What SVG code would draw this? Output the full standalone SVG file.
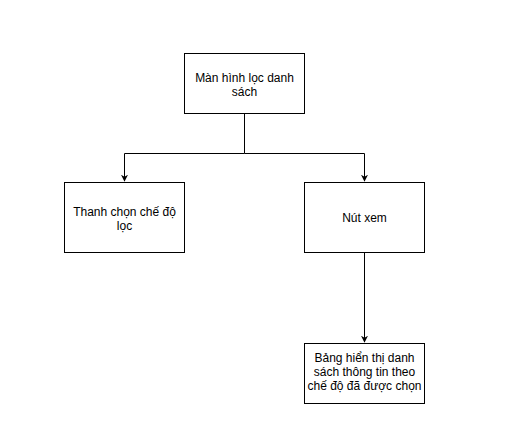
<svg xmlns="http://www.w3.org/2000/svg" width="521" height="431" viewBox="0 0 521 431">
<style>
.box{fill:#fff;stroke:#000;stroke-width:1}
.t{font-family:"Liberation Sans",Arial,sans-serif;font-size:12px;fill:#000;text-anchor:middle}
.edge{fill:none;stroke:#000;stroke-width:1}
</style>
<defs>
<marker id="arr" viewBox="0 0 10 10" refX="9" refY="5" markerWidth="7" markerHeight="7" markerUnits="userSpaceOnUse" orient="auto">
<path d="M0,0 L10,5 L0,10 L3,5 Z" fill="#000"/>
</marker>
</defs>
<rect width="521" height="431" fill="#fff"/>
<g id="connectors">
<path class="edge" d="M244.5,113 V153.5 H124.5 V181" marker-end="url(#arr)"/>
<path class="edge" d="M244.5,153.5 H364.5 V181" marker-end="url(#arr)"/>
<path class="edge" d="M364.5,253 V342" marker-end="url(#arr)"/>
</g>
<g id="n1">
<rect class="box" x="184.5" y="53.5" width="120" height="60"/>
<text class="t" x="244.5" y="82">Màn hình lọc danh</text>
<text class="t" x="244.5" y="96">sách</text>
</g>
<g id="n2">
<rect class="box" x="64.5" y="182.5" width="120" height="70"/>
<text class="t" x="124.5" y="216">Thanh chọn chế độ</text>
<text class="t" x="124.5" y="230">lọc</text>
</g>
<g id="n3">
<rect class="box" x="304.5" y="182.5" width="120" height="70"/>
<text class="t" x="364.5" y="222">Nút xem</text>
</g>
<g id="n4">
<rect class="box" x="304.5" y="343.5" width="120" height="60"/>
<text class="t" x="364.5" y="362">Bảng hiển thị danh</text>
<text class="t" x="364.5" y="376">sách thông tin theo</text>
<text class="t" x="364.5" y="390">chế độ đã được chọn</text>
</g>
</svg>
